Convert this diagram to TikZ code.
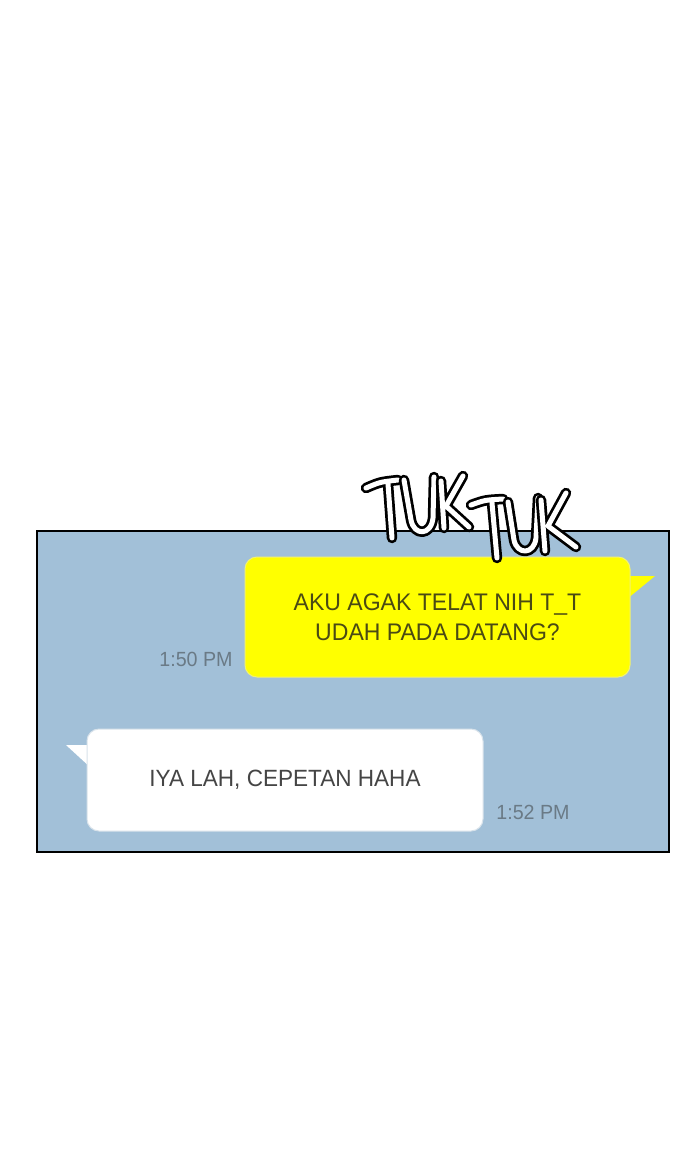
\documentclass[tikz,border=0pt]{standalone}
\usepackage{fontspec}
\setmainfont{Liberation Sans}[FakeStretch=0.96]
\definecolor{panelblue}{HTML}{A2C0D8}
\definecolor{chatyellow}{HTML}{FFFF00}
\definecolor{yellowedge}{HTML}{F2F270}
\definecolor{yellowtext}{HTML}{4A4A14}
\definecolor{whiteedge}{HTML}{D8E2EA}
\definecolor{chattext}{HTML}{454545}
\definecolor{stampgray}{HTML}{6A7A86}
\begin{document}
\begin{tikzpicture}[x=1pt,y=-1pt]
    \newcommand{\tukLetter}[1]{%
      \draw[tukline] #1;
      \draw[tukfill] #1;
    }

    \tikzstyle{bubble}=[
      rectangle,
      rounded corners=12pt,
      anchor=center,
      align=center,
      inner sep=0pt,
      line width=1pt,
    ]
    \tikzstyle{yelbubble}=[bubble, fill=chatyellow, draw=yellowedge, text=yellowtext,
      minimum width=385pt, minimum height=120pt, font=\fontsize{24}{30}\selectfont]
    \tikzstyle{whitebubble}=[bubble, fill=white, draw=whiteedge, text=chattext,
      minimum width=396pt, minimum height=102pt, font=\fontsize{23.5}{28}\selectfont]
    \tikzstyle{stamp}=[text=stampgray, inner sep=0pt, font=\fontsize{20.5}{24}\selectfont]
    \tikzstyle{tukline}=[draw=black, line width=10.5pt, line cap=round, line join=round]
    \tikzstyle{tukfill}=[draw=white, line width=5pt, line cap=round, line join=round]

    \useasboundingbox (0,0) rectangle (700,1172);
    \fill[white] (0,0) rectangle (700,1172);

    % chat panel
    \draw[fill=panelblue, line width=2pt] (37,531) rectangle (669,852);

    % outgoing message
    \fill[chatyellow] (627,576) -- (655,576) -- (627,599) -- cycle;
    \node[yelbubble] (msgOut) at (437.5,617) {AKU AGAK TELAT NIH T\_T\\UDAH PADA DATANG?};
    \node[stamp] (timeOut) at (196,659) {1:50 PM};

    % incoming message
    \fill[white] (90,745) -- (66,745) -- (90,767) -- cycle;
    \node[whitebubble] (msgIn) at (285,780) {IYA LAH, CEPETAN HAHA};
    \node[stamp] (timeIn) at (533,812) {1:52 PM};

    % TUK TUK
    \tukLetter{(366,488) .. controls (380,482) .. (398,480) (388,484)--(392,538)}
    \tukLetter{(404,480)--(411,520) .. controls (414,536) and (431,536) .. (433,518)--(434,477)}
    \tukLetter{(441,481)--(444,528) (463,476)--(446,506)--(469,527)}
    \tukLetter{(471,505) .. controls (485,500) .. (503,499) (492,503)--(497,558)}
    \tukLetter{(508,502)--(514,540) .. controls (517,555) and (534,555) .. (536,538)--(538,498)}
    \tukLetter{(541,500)--(545,551) (566,493)--(548,526)--(576,547)}
  \end{tikzpicture}
\end{document}
